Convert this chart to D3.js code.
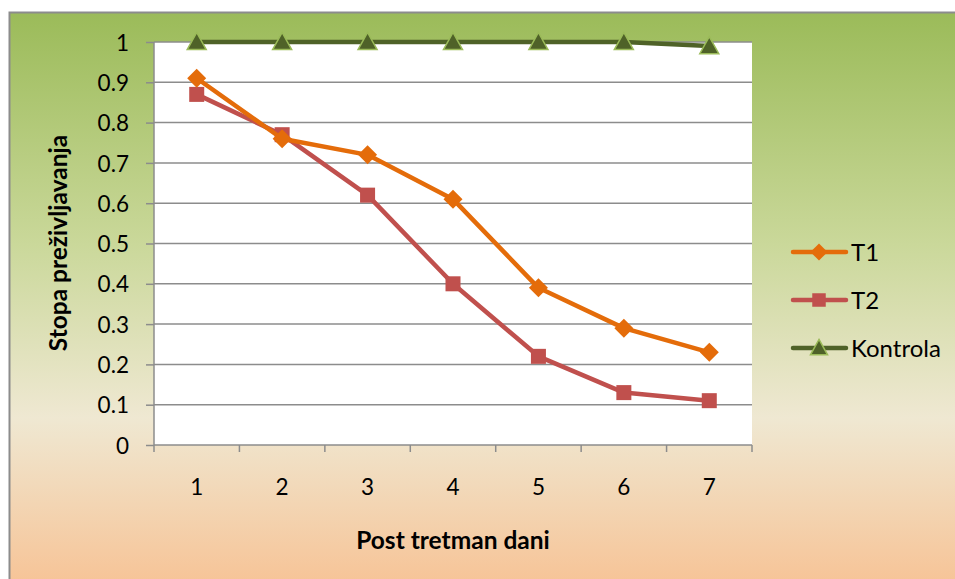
<!DOCTYPE html>
<html>
<head>
<meta charset="utf-8">
<script src="https://cdn.jsdelivr.net/npm/d3@7"></script>
<style>
  html, body { margin: 0; padding: 0; background: #fff; }
  svg { display: block; font-family: Lato, "Open Sans", sans-serif; }
</style>
</head>
<body>
<svg id="chart" width="955" height="579"></svg>
<script>
// Survival rate by day after treatment
const days = [1, 2, 3, 4, 5, 6, 7];
const t1 = [0.91, 0.76, 0.72, 0.61, 0.39, 0.29, 0.23];
const t2 = [0.87, 0.77, 0.62, 0.40, 0.22, 0.13, 0.11];
const kontrola = [1, 1, 1, 1, 1, 1, 0.99];
const yTicks = [0, 0.1, 0.2, 0.3, 0.4, 0.5, 0.6, 0.7, 0.8, 0.9, 1];
const seriesNames = ["T1", "T2", "Kontrola"];

const svg = d3.select("#chart");
const W = 955, H = 579;

// background gradient (green top, cream middle, peach bottom)
const defs = svg.append("defs");
const grad = defs.append("linearGradient").attr("id", "bg")
  .attr("x1", 0).attr("y1", 0).attr("x2", 0).attr("y2", 1);
[[0, "#9bbb59"], [0.4, "#cad89a"], [0.7, "#efe8d2"], [1, "#f7c294"]]
  .forEach(([o, c]) => grad.append("stop").attr("offset", o).attr("stop-color", c));

svg.append("rect").attr("x", 9.5).attr("y", 12.5).attr("width", W).attr("height", H)
  .attr("fill", "url(#bg)").attr("stroke", "#8c8c8c").attr("stroke-width", 2);

const plot = { left: 154, right: 752, top: 42, bottom: 445 };

const x = d3.scaleBand().domain(days).range([plot.left, plot.right]);
const y = d3.scaleLinear().domain([0, 1]).range([plot.bottom, plot.top]);

svg.append("rect").attr("x", plot.left).attr("y", plot.top)
  .attr("width", plot.right - plot.left).attr("height", plot.bottom - plot.top)
  .attr("fill", "#fff");

// gridlines
svg.append("g").selectAll("line").data(yTicks.slice(1)).join("line")
  .attr("x1", plot.left).attr("x2", plot.right)
  .attr("y1", d => y(d)).attr("y2", d => y(d))
  .attr("stroke", "#8c8c8c").attr("stroke-width", 1.5);

// y axis
const yAxis = svg.append("g").attr("transform", `translate(${plot.left},0)`)
  .call(d3.axisLeft(y).tickValues(yTicks).tickSize(8).tickPadding(17)
    .tickFormat(d => d === 0 || d === 1 ? String(d) : d.toFixed(1)));
yAxis.select(".domain").attr("stroke", "#8c8c8c").attr("stroke-width", 1.5).attr("d", `M0,${plot.top}V${plot.bottom}`);
yAxis.selectAll(".tick line").attr("stroke", "#8c8c8c").attr("stroke-width", 1.5);
yAxis.selectAll(".tick text").attr("font-size", 22.5).attr("fill", "#000")
  .attr("font-family", "Lato, sans-serif").attr("dy", "0.36em");

// x axis with ticks between categories
const xAxis = svg.append("g").attr("transform", `translate(0,${plot.bottom})`);
xAxis.append("line").attr("x1", plot.left).attr("x2", plot.right)
  .attr("stroke", "#8c8c8c").attr("stroke-width", 1.5);
const bounds = days.map(d => x(d)).concat([x(days[days.length - 1]) + x.bandwidth()]);
xAxis.selectAll("line.tk").data(bounds).join("line").attr("class", "tk")
  .attr("x1", d => d).attr("x2", d => d).attr("y1", 0).attr("y2", 7)
  .attr("stroke", "#8c8c8c").attr("stroke-width", 1.5);
xAxis.selectAll("text").data(days).join("text")
  .attr("x", d => x(d) + x.bandwidth() / 2).attr("y", 50)
  .attr("text-anchor", "middle").attr("font-size", 22.5).attr("fill", "#000")
  .text(d => d);

// axis titles
svg.append("text").attr("x", 453).attr("y", 549).attr("text-anchor", "middle")
  .attr("font-size", 24.5).attr("font-weight", "bold").text("Post tretman dani");
svg.append("text").attr("transform", "translate(67,243) rotate(-90)")
  .attr("text-anchor", "middle").attr("font-size", 24.5).attr("font-weight", "bold")
  .text("Stopa preživljavanja");

const cx = d => x(d) + x.bandwidth() / 2;
const line = d3.line().x((v, i) => cx(days[i])).y(v => y(v));

const styles = [
  { data: t1, color: "#e46c0a", marker: "diamond" },
  { data: t2, color: "#c0504d", marker: "square" },
  { data: kontrola, color: "#4f6228", marker: "triangle" }
];

function drawMarker(g, type, color, px, py, scale = 1) {
  if (type === "diamond") {
    const s = 9.5 * scale;
    g.append("path").attr("d", `M${px},${py - s}L${px + s},${py}L${px},${py + s}L${px - s},${py}Z`)
      .attr("fill", color);
  } else if (type === "square") {
    const s = 7.5 * scale;
    g.append("rect").attr("x", px - s).attr("y", py - s).attr("width", 2 * s).attr("height", 2 * s)
      .attr("fill", color);
  } else {
    const s = 9.5 * scale;
    g.append("path").attr("d", `M${px},${py - s}L${px + s},${py + s * 0.8}L${px - s},${py + s * 0.8}Z`)
      .attr("fill", color).attr("stroke", "#9bbb59").attr("stroke-width", 1.5);
  }
}

const seriesG = svg.append("g");
styles.slice().reverse().forEach(s => {
  seriesG.append("path").datum(s.data).attr("d", line)
    .attr("fill", "none").attr("stroke", s.color).attr("stroke-width", 4.5)
    .attr("stroke-linejoin", "round");
  s.data.forEach((v, i) => drawMarker(seriesG, s.marker, s.color, cx(days[i]), y(v)));
});

// legend
const legend = svg.append("g");
const legendY = [252, 300, 348];
styles.forEach((s, i) => {
  legend.append("line").attr("x1", 793).attr("x2", 846)
    .attr("y1", legendY[i]).attr("y2", legendY[i])
    .attr("stroke", s.color).attr("stroke-width", 4.5).attr("stroke-linecap", "round");
  drawMarker(legend, s.marker, s.color, 819, legendY[i], 0.9);
  legend.append("text").attr("x", 851).attr("y", legendY[i] + 8.5)
    .attr("font-size", 24).attr("fill", "#000").text(seriesNames[i]);
});
</script>
</body>
</html>
